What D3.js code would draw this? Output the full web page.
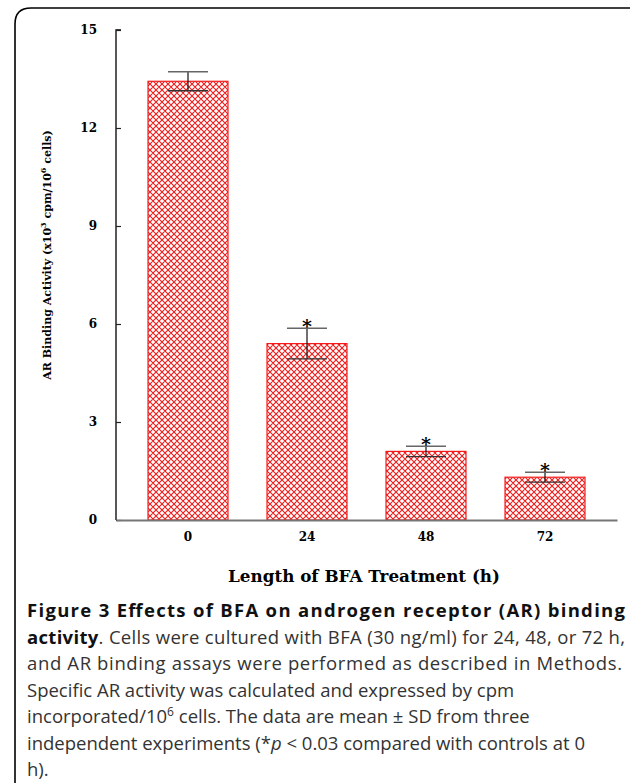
<!DOCTYPE html>
<html>
<head>
<meta charset="utf-8">
<script src="https://cdn.jsdelivr.net/npm/d3@7"></script>
<style>
    body { margin: 0; background: #fff; }
    svg { display: block; }
</style>
</head>
<body>
<svg id="chart"></svg>
<script>
// Chart values
const categories = ["0", "24", "48", "72"];
const means = [13.43, 5.40, 2.10, 1.31];
const sds = [0.29, 0.47, 0.16, 0.15];
const significant = [false, true, true, true];
const yTicks = [0, 3, 6, 9, 12, 15];

const width = 633;
const height = 783;
const margin = { top: 30, right: 16, bottom: 263, left: 116 };

const svg = d3.select("#chart")
    .attr("width", width)
    .attr("height", height);

// hatch pattern for the bars
const defs = svg.append("defs");
const pat = defs.append("pattern")
    .attr("id", "hatch")
    .attr("patternUnits", "userSpaceOnUse")
    .attr("width", 6)
    .attr("height", 6);
pat.append("rect").attr("width", 6).attr("height", 6).attr("fill", "#fff");
pat.append("path")
    .attr("d", "M0,0 L6,6 M6,0 L0,6 M-3,3 L3,9 M3,-3 L9,3 M-3,3 L3,-3 M3,9 L9,3")
    .attr("stroke", "#f21a1a")
    .attr("stroke-width", 1.1);

// frame round the figure
svg.append("path")
    .attr("d", "M15,783 V24 Q15,8 31,8 H630")
    .attr("fill", "none")
    .attr("stroke", "#000")
    .attr("stroke-width", 1.6);

const data = categories.map((c, i) => ({ cat: c, mean: means[i], sd: sds[i], sig: significant[i] }));

const xScale = d3.scaleBand()
    .domain(categories)
    .range([margin.left, width - margin.right])
    .paddingInner(0.328)
    .paddingOuter(0.269);

const yScale = d3.scaleLinear()
    .domain([0, 15])
    .range([height - margin.bottom, margin.top]);

// bars
svg.selectAll(".bar")
    .data(data)
    .enter()
    .append("rect")
    .attr("class", "bar")
    .attr("x", d => xScale(d.cat))
    .attr("y", d => yScale(d.mean))
    .attr("width", xScale.bandwidth())
    .attr("height", d => yScale(0) - yScale(d.mean))
    .attr("fill", "url(#hatch)")
    .attr("stroke", "#f21a1a")
    .attr("stroke-width", 1.2);

// error bars
const cap = 20;
const err = svg.selectAll(".err")
    .data(data)
    .enter()
    .append("g")
    .attr("class", "err");
err.append("line")
    .attr("x1", d => xScale(d.cat) + xScale.bandwidth() / 2)
    .attr("x2", d => xScale(d.cat) + xScale.bandwidth() / 2)
    .attr("y1", d => yScale(d.mean + d.sd))
    .attr("y2", d => yScale(d.mean - d.sd))
    .attr("stroke", "#111")
    .attr("stroke-width", 1.2);
err.append("line")
    .attr("x1", d => xScale(d.cat) + xScale.bandwidth() / 2 - cap)
    .attr("x2", d => xScale(d.cat) + xScale.bandwidth() / 2 + cap)
    .attr("y1", d => yScale(d.mean + d.sd))
    .attr("y2", d => yScale(d.mean + d.sd))
    .attr("stroke", "#666")
    .attr("stroke-width", 1.5);
err.append("line")
    .attr("x1", d => xScale(d.cat) + xScale.bandwidth() / 2 - cap)
    .attr("x2", d => xScale(d.cat) + xScale.bandwidth() / 2 + cap)
    .attr("y1", d => yScale(d.mean - d.sd))
    .attr("y2", d => yScale(d.mean - d.sd))
    .attr("stroke", "#333")
    .attr("stroke-width", 1.3);

// significance stars
svg.selectAll(".star")
    .data(data.filter(d => d.sig))
    .enter()
    .append("text")
    .attr("class", "star")
    .attr("x", d => xScale(d.cat) + xScale.bandwidth() / 2)
    .attr("y", d => yScale(d.mean + d.sd) + 5)
    .attr("text-anchor", "middle")
    .style("font-family", "'DejaVu Serif', serif")
    .style("font-weight", "bold")
    .style("font-size", "19px")
    .text("*");

// y-axis
const yAxis = svg.append("g")
    .attr("class", "y-axis")
    .attr("transform", `translate(${margin.left}, 0)`)
    .call(d3.axisRight(yScale).tickValues(yTicks).tickSize(5).tickFormat(d3.format("d")));
yAxis.select(".domain").attr("stroke", "#000").attr("stroke-width", 1.3).attr("d", `M0,${yScale(0)}V${yScale(15)}H5`);
yAxis.selectAll(".tick line").attr("stroke", "#222").attr("stroke-width", 1.2);
yAxis.selectAll(".tick text")
    .attr("x", -19)
    .attr("text-anchor", "end")
    .style("font-family", "'DejaVu Serif', serif")
    .style("font-weight", "bold")
    .style("font-size", "12px")
    .attr("fill", "#000");

// x-axis
const xAxis = svg.append("g")
    .attr("class", "x-axis")
    .attr("transform", `translate(0, ${yScale(0)})`)
    .call(d3.axisBottom(xScale).tickSize(0));
xAxis.select(".domain").attr("stroke", "#777").attr("stroke-width", 2);
xAxis.selectAll(".tick text")
    .attr("dy", "1.5em")
    .style("font-family", "'DejaVu Serif', serif")
    .style("font-weight", "bold")
    .style("font-size", "12px")
    .attr("fill", "#000");

// axis titles
svg.append("text")
    .attr("x", 364)
    .attr("y", 582)
    .attr("text-anchor", "middle")
    .attr("textLength", 272)
    .attr("lengthAdjust", "spacingAndGlyphs")
    .style("font-family", "'DejaVu Serif', serif")
    .style("font-weight", "bold")
    .style("font-size", "16px")
    .text("Length of BFA Treatment (h)");

const yTitle = svg.append("text")
    .attr("transform", "translate(51, 255) rotate(-90)")
    .attr("text-anchor", "middle")
    .style("font-family", "'DejaVu Serif', serif")
    .style("font-weight", "bold")
    .style("font-size", "11px");
yTitle.append("tspan").text("AR Binding Activity (x10");
yTitle.append("tspan").attr("dy", -5).style("font-size", "8px").text("3");
yTitle.append("tspan").attr("dy", 5).text(" cpm/10");
yTitle.append("tspan").attr("dy", -5).style("font-size", "8px").text("6");
yTitle.append("tspan").attr("dy", 5).text(" cells)");

// caption
const capFont = "'Open Sans', 'Noto Sans', sans-serif";
const capX = 27;
const lineY = [617, 644, 670, 697, 723, 750, 776];

function capLine(i, len) {
    const t = svg.append("text")
        .attr("x", capX)
        .attr("y", lineY[i])
        .style("font-family", capFont)
        .style("font-size", "18.5px")
        .attr("fill", "#333");
    if (len) t.attr("textLength", len).attr("lengthAdjust", "spacing");
    return t;
}

capLine(0, 598).append("tspan")
    .style("font-weight", "bold").attr("fill", "#111")
    .text("Figure 3 Effects of BFA on androgen receptor (AR) binding");
const l2 = capLine(1, 598);
l2.append("tspan").style("font-weight", "bold").attr("fill", "#111").text("activity");
l2.append("tspan").text(". Cells were cultured with BFA (30 ng/ml) for 24, 48, or 72 h,");
capLine(2, 595).text("and AR binding assays were performed as described in Methods.");
capLine(3).text("Specific AR activity was calculated and expressed by cpm");
const l5 = capLine(4);
l5.append("tspan").text("incorporated/10");
l5.append("tspan").attr("dy", -7).style("font-size", "12px").text("6");
l5.append("tspan").attr("dy", 7).text(" cells. The data are mean \u00b1 SD from three");
const l6 = capLine(5);
l6.append("tspan").text("independent experiments (*");
l6.append("tspan").style("font-style", "italic").text("p");
l6.append("tspan").text(" < 0.03 compared with controls at 0");
capLine(6).text("h).");
</script>
</body>
</html>
